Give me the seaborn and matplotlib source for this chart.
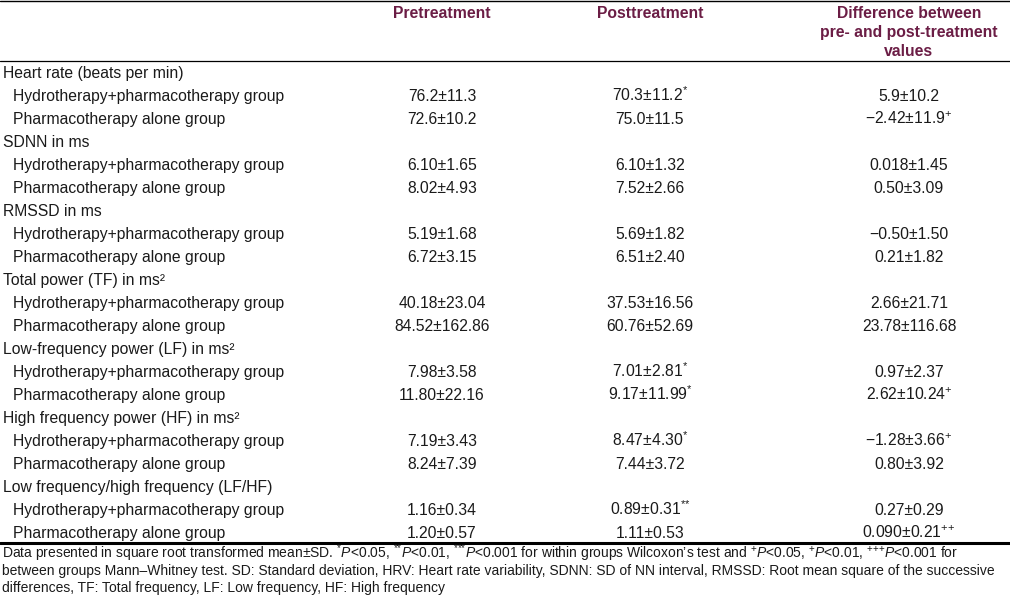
import matplotlib
matplotlib.use("Agg")
import matplotlib.pyplot as plt
import seaborn as sns

# table content
columns = ["Pretreatment", "Posttreatment", "Difference between\npre- and post-treatment\nvalues"]
parameters = [
    "Heart rate (beats per min)",
    "SDNN in ms",
    "RMSSD in ms",
    "Total power (TF) in ms²",
    "Low-frequency power (LF) in ms²",
    "High frequency power (HF) in ms²",
    "Low frequency/high frequency (LF/HF)",
]
groups = ["Hydrotherapy+pharmacotherapy group", "Pharmacotherapy alone group"]

# one entry per group row (hydro, pharma, hydro, pharma, ...)
pre_vals = ["76.2±11.3", "72.6±10.2", "6.10±1.65", "8.02±4.93", "5.19±1.68", "6.72±3.15",
            "40.18±23.04", "84.52±162.86", "7.98±3.58", "11.80±22.16", "7.19±3.43", "8.24±7.39",
            "1.16±0.34", "1.20±0.57"]
post_vals = ["70.3±11.2", "75.0±11.5", "6.10±1.32", "7.52±2.66", "5.69±1.82", "6.51±2.40",
             "37.53±16.56", "60.76±52.69", "7.01±2.81", "9.17±11.99", "8.47±4.30", "7.44±3.72",
             "0.89±0.31", "1.11±0.53"]
post_marks = ["*", "", "", "", "", "", "", "", "*", "*", "*", "", "**", ""]
diff_vals = ["5.9±10.2", "−2.42±11.9", "0.018±1.45", "0.50±3.09", "−0.50±1.50", "0.21±1.82",
             "2.66±21.71", "23.78±116.68", "0.97±2.37", "2.62±10.24", "−1.28±3.66", "0.80±3.92",
             "0.27±0.29", "0.090±0.21"]
diff_marks = ["", "+", "", "", "", "", "", "", "", "+", "+", "", "", "++"]

footnote = [
    r"Data presented in square root transformed mean±SD. $^{\text{*}}P$<0.05, $^{\text{**}}P$<0.01, $^{\text{***}}P$<0.001 for within groups Wilcoxon’s test and $^{\text{+}}P$<0.05, $^{\text{+}}P$<0.01, $^{\text{+++}}P$<0.001 for",
    "between groups Mann–Whitney test. SD: Standard deviation, HRV: Heart rate variability, SDNN: SD of NN interval, RMSSD: Root mean square of the successive",
    "differences, TF: Total frequency, LF: Low frequency, HF: High frequency",
]

sns.set_theme(style="white")
plt.rcParams["font.family"] = ["Liberation Sans", "DejaVu Sans"]
plt.rcParams["mathtext.fontset"] = "custom"
plt.rcParams["mathtext.rm"] = "Liberation Sans"
plt.rcParams["mathtext.it"] = "Liberation Sans:italic"
plt.rcParams["mathtext.bf"] = "Liberation Sans:bold"

fig = plt.figure(figsize=(10.1, 5.96), dpi=100)
ax = fig.add_axes([0, 0, 1, 1])
ax.set_xlim(0, 1010)
ax.set_ylim(596, 0)
ax.axis("off")

head_color = "#6b1d45"
ink = "#1a1a1a"
col_x = [442, 650, 909]
fs = 11.3

# rules
ax.axhline(1, color="black", lw=1.0)
ax.axhline(61, color="black", lw=0.9)
ax.axhline(543, color="black", lw=2.2)

# header
for x, c in zip(col_x, columns):
    ax.text(x, 6, c, ha="center", va="top", fontsize=fs, fontweight="bold",
            color=head_color, linespacing=1.33)

def sup(mark):
    return r"$^{\text{" + mark + "}}$" if mark else ""

row_y0, row_h = 74, 23
base = 4.2
row = 0
k = 0
for p in parameters:
    ax.text(3, row_y0 + row * row_h + base, p, ha="left", va="baseline", fontsize=fs, color=ink)
    row += 1
    for g in groups:
        y = row_y0 + row * row_h + base
        ax.text(13, y, g, ha="left", va="baseline", fontsize=fs, color=ink)
        ax.text(col_x[0], y, pre_vals[k], ha="center", va="baseline", fontsize=fs, color=ink)
        ax.text(col_x[1], y, post_vals[k] + sup(post_marks[k]), ha="center", va="baseline",
                fontsize=fs, color=ink)
        ax.text(col_x[2], y, diff_vals[k] + sup(diff_marks[k]), ha="center", va="baseline",
                fontsize=fs, color=ink)
        row += 1
        k += 1

for i, line in enumerate(footnote):
    ax.text(2, 554 + i * 17 + 3.6, line, ha="left", va="baseline", fontsize=10.0, color=ink)

fig.savefig("out.png", dpi=100)
